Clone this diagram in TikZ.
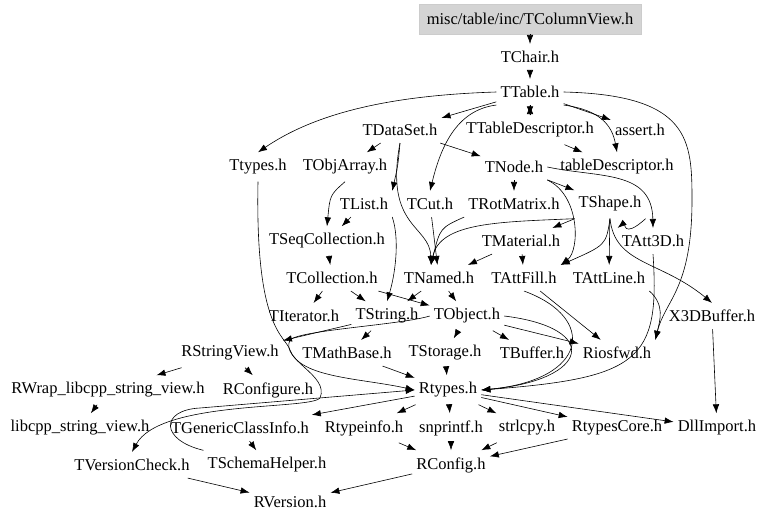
\documentclass[tikz,border=0pt]{standalone}
\usepackage{fontspec}
\setmainfont{Liberation Serif}
\usetikzlibrary{arrows.meta}

\begin{document}
\begin{tikzpicture}[x=1pt,y=-1pt,>={Latex[length=9pt,width=6.5pt]},
	hdr/.style={font=\fontsize{16.5}{18}\selectfont,inner xsep=4pt,inner ysep=7pt},
	dep/.style={->,line width=0.6pt}]
	\useasboundingbox (0,0) rectangle (768,522);
	% files
	\node[hdr,fill=black!17,draw=black!20,minimum width=222pt,minimum height=30pt,inner ysep=2pt] (view) at (530,19) {misc/table/inc/TColumnView.h};
	\node[hdr] (chair) at (530,57) {TChair.h};
	\node[hdr] (table) at (530,92) {TTable.h};
	\node[hdr] (dataset) at (400,130) {TDataSet.h};
	\node[hdr] (tdesc) at (530,130) {TTableDescriptor.h};
	\node[hdr] (assert) at (640,130) {assert.h};
	\node[hdr] (ttypes) at (258,167) {Ttypes.h};
	\node[hdr] (objarray) at (345,167) {TObjArray.h};
	\node[hdr] (tnode) at (514,167) {TNode.h};
	\node[hdr] (tabdesc) at (617,167) {tableDescriptor.h};
	\node[hdr] (tlist) at (364,204) {TList.h};
	\node[hdr] (tcut) at (430,204) {TCut.h};
	\node[hdr] (rotmat) at (514,204) {TRotMatrix.h};
	\node[hdr] (shape) at (610,204) {TShape.h};
	\node[hdr] (seqcoll) at (327,241) {TSeqCollection.h};
	\node[hdr] (material) at (521,241) {TMaterial.h};
	\node[hdr] (att3d) at (653,241) {TAtt3D.h};
	\node[hdr] (coll) at (332,278) {TCollection.h};
	\node[hdr] (named) at (439,278) {TNamed.h};
	\node[hdr] (attfill) at (524,278) {TAttFill.h};
	\node[hdr] (attline) at (609,278) {TAttLine.h};
	\node[hdr] (iter) at (304,316) {TIterator.h};
	\node[hdr] (string) at (387,316) {TString.h};
	\node[hdr] (object) at (467,316) {TObject.h};
	\node[hdr] (x3d) at (712,316) {X3DBuffer.h};
	\node[hdr] (strview) at (230,353) {RStringView.h};
	\node[hdr] (mathbase) at (347,353) {TMathBase.h};
	\node[hdr] (storage) at (445,353) {TStorage.h};
	\node[hdr] (buffer) at (532,353) {TBuffer.h};
	\node[hdr] (riosfwd) at (617,353) {Riosfwd.h};
	\node[hdr] (rwrap) at (108,390) {RWrap\_libcpp\_string\_view.h};
	\node[hdr] (rconfigure) at (268,390) {RConfigure.h};
	\node[hdr] (rtypes) at (448,390) {Rtypes.h};
	\node[hdr] (libcpp) at (80,428) {libcpp\_string\_view.h};
	\node[hdr] (genclass) at (240,428) {TGenericClassInfo.h};
	\node[hdr] (rtypeinfo) at (364,428) {Rtypeinfo.h};
	\node[hdr] (snprintf) at (451,428) {snprintf.h};
	\node[hdr] (strlcpy) at (527,428) {strlcpy.h};
	\node[hdr] (rtcore) at (617,428) {RtypesCore.h};
	\node[hdr] (dllimport) at (717,428) {DllImport.h};
	\node[hdr] (vcheck) at (132,465) {TVersionCheck.h};
	\node[hdr] (schema) at (267,465) {TSchemaHelper.h};
	\node[hdr] (rconfig) at (451,465) {RConfig.h};
	\node[hdr] (rversion) at (290,502) {RVersion.h};
	% straight includes
	\foreach \a/\b in {view/chair,chair/table,table/dataset,table/tdesc,tdesc/table,table/assert,
		tdesc/tabdesc,dataset/objarray,dataset/tnode,tnode/rotmat,tnode/shape,tlist/seqcoll,
		seqcoll/coll,coll/iter,coll/string,coll/object,named/object,named/string,material/named,
		material/attfill,shape/material,shape/attline,tcut/named,string/mathbase,
		string/strview,object/storage,object/buffer,object/riosfwd,attfill/riosfwd,mathbase/rtypes,
		storage/rtypes,strview/rwrap,strview/rconfigure,rwrap/libcpp,rtypes/rtypeinfo,
		rtypes/snprintf,rtypes/strlcpy,rtypes/rtcore,rtypes/dllimport,rtypes/genclass,
		genclass/schema,rtypeinfo/rconfig,snprintf/rconfig,strlcpy/rconfig,rtcore/rconfig,
		rconfig/rversion,vcheck/rversion,x3d/dllimport}
		\draw[dep] (\a) -- (\b);
	% curved includes
	\draw[dep] (table.west) .. controls (400,95) and (320,110) .. (ttypes.north);
	\draw[dep] (table.south west) .. controls (455,110) and (440,150) .. (tcut.north);
	\draw[dep] (table.south east) .. controls (600,110) and (612,125) .. (tabdesc.north);
	\draw[dep] (table.east) .. controls (690,95) and (692,140) .. (692,200)
		.. controls (692,290) and (665,300) .. (riosfwd.north east);
	\draw[dep] (dataset.south) .. controls (398,165) .. (tlist.north east);
	\draw[dep] (dataset.south) .. controls (384,228) and (430,225) .. ([xshift=-8pt]named.north);
	\draw[dep] (objarray.south) .. controls (330,195) .. (seqcoll.north);
	\draw[dep] (tlist.south east) .. controls (400,240) and (395,275) .. (string.north);
	\draw[dep] (rotmat.south west) .. controls (440,228) .. ([xshift=-8pt]named.north);
	\draw[dep] (shape.south west) .. controls (500,222) and (440,222) .. ([xshift=-8pt]named.north);
	\draw[dep] (tnode.east) .. controls (600,178) and (652,170) .. (att3d.north);
	\draw[dep] (tnode.south east) .. controls (580,195) and (580,250) .. (attfill.north east);
	\draw[dep] (shape.south) .. controls (606,245) .. (attfill.north east);
	\draw[dep] (shape.south east) .. controls (622,240) and (625,222) .. (att3d.north west);
	\draw[dep] (shape.south) .. controls (615,265) and (660,260) .. (x3d.north);
	\draw[dep] (att3d.south) .. controls (660,360) and (640,378) .. (rtypes.east);
	\draw[dep] (attline.south east) .. controls (665,305) and (660,320) .. (riosfwd.north east);
	\draw[dep] (attfill.south) .. controls (598,318) and (588,380) .. (rtypes.east);
	\draw[dep] (object.east) .. controls (602,328) and (590,380) .. (rtypes.east);
	\draw[dep] (ttypes.south) .. controls (255,330) and (285,335) .. (290,350)
		.. controls (300,378) and (360,378) .. (rtypes.west);
	\draw[dep] (object.west) .. controls (400,325) and (300,330) .. (290,340)
		.. controls (280,360) and (330,375) .. (320,398)
		.. controls (310,410) and (160,400) .. (vcheck.north);
	\draw[dep] (schema.north west) .. controls (160,440) and (160,410) .. (200,408)
		-- (rtypes.west);
\end{tikzpicture}
\end{document}
